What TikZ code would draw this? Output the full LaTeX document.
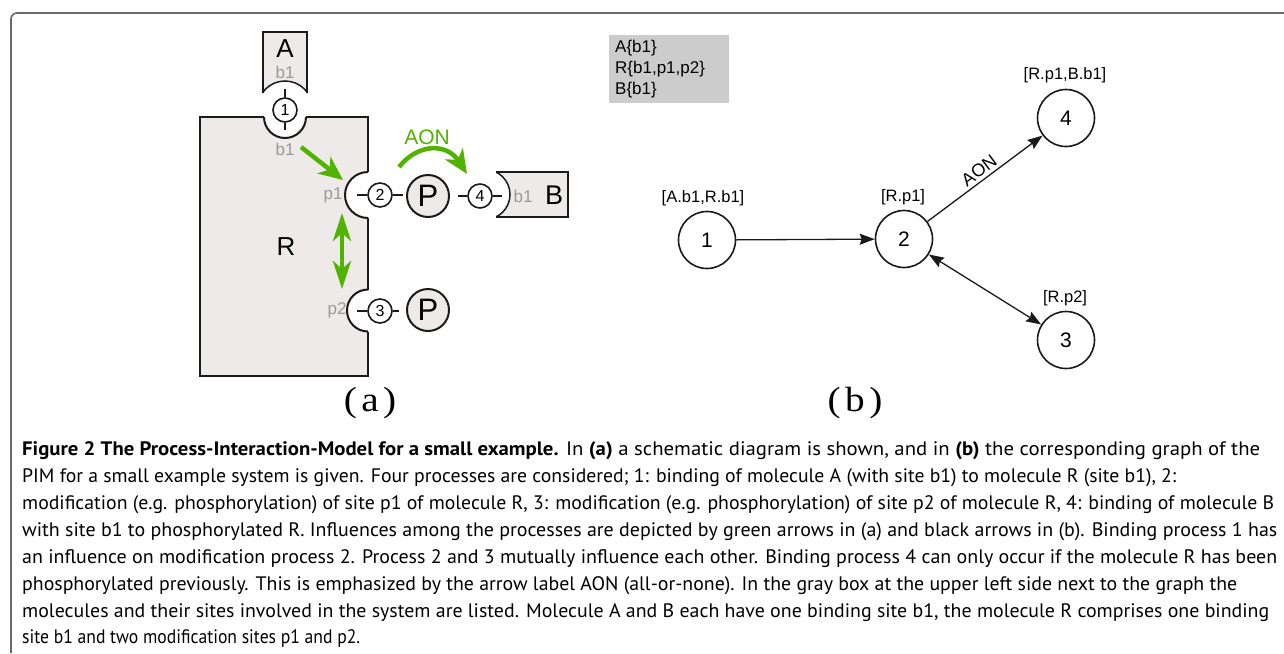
\documentclass[tikz,border=0pt]{standalone}
\usepackage{fontspec}
\setmainfont{Liberation Sans}
\newfontfamily\capfont{PT Sans}
\newfontfamily\timesfont{Liberation Serif}
\usetikzlibrary{arrows.meta}
\definecolor{molfill}{HTML}{EDEAE9}
\definecolor{sitegray}{HTML}{9A9A9A}
\definecolor{aongreen}{HTML}{52B200}
\definecolor{boxgray}{HTML}{CCCCCC}
\definecolor{framegray}{HTML}{6A6A6A}
\definecolor{inkline}{HTML}{1A1A1A}
\newcommand{\capline}[2]{\resizebox{#1pt}{\height}{#2}}
\begin{document}
\begin{tikzpicture}[x=1pt,y=-1pt,
  outline/.style={line width=2, draw=inkline},
  thinoutline/.style={line width=1.5, draw=inkline},
  site/.style={circle, draw=inkline, line width=1.6, fill=white, minimum size=24, inner sep=0, font=\fontsize{16}{16}\selectfont},
  pnode/.style={circle, draw=inkline, line width=2, fill=molfill, minimum size=42, inner sep=0, font=\fontsize{31}{31}\selectfont},
  gnode/.style={circle, draw=inkline, line width=1.6, minimum size=57, inner sep=0, font=\fontsize{21}{21}\selectfont},
  glabel/.style={inner sep=0, font=\fontsize{16.5}{17}\selectfont},
  sitelab/.style={inner sep=0, text=sitegray, font=\fontsize{17}{17}\selectfont},
  biglab/.style={inner sep=0, font=\fontsize{26}{26}\selectfont},
  ticks/.style={line width=2, draw=inkline},
  greenarrow/.style={draw=aongreen, line width=4.5, -{Stealth[length=24,width=21,inset=7]}},
  greendouble/.style={draw=aongreen, line width=4.5, {Stealth[length=28,width=18,inset=8]}-{Stealth[length=28,width=18,inset=8]}},
  graphedge/.style={line width=1.3, draw=inkline},
  tip/.tip={Stealth[length=15,width=11,inset=2]},
  caplab/.style={anchor=base west, inner sep=0, font=\capfont\fontsize{19.5}{27}\selectfont},
  sublab/.style={inner sep=0, font=\timesfont\fontsize{35}{35}\selectfont}
]
\useasboundingbox (0,0) rectangle (1284,653);

% frame
\draw[framegray, line width=1.6, rounded corners=6] (11,653) -- (11,13) -- (1284,13);

% ---------- (a) molecule A
\begin{scope}
  \clip (263,32) rectangle (307,117);
  \fill[molfill] (263,32) rectangle (307,117);
  \fill[white] (285,108.5) circle (27.5);
  \draw[thinoutline] (285,108.5) circle (27.5);
\end{scope}
\draw[thinoutline] (263,92.5) -- (263,32) -- (307,32) -- (307,92.5);

% molecule R
\begin{scope}
  \clip (200,117) rectangle (368,376);
  \fill[molfill] (200,117) rectangle (368,376);
  \fill[white] (285,117) circle (21) (368,195) circle (23) (368,310.5) circle (21);
  \draw[outline] (285,117) circle (21) (368,195) circle (23) (368,310.5) circle (21);
\end{scope}
\draw[outline] (264,117) -- (200,117) -- (200,376) -- (368,376) -- (368,331.5);
\draw[outline] (368,289.5) -- (368,218);
\draw[outline] (368,172) -- (368,117) -- (306,117);

% molecule B
\begin{scope}
  \clip (496,172) rectangle (568,217);
  \fill[molfill] (496,172) rectangle (568,217);
  \fill[white] (485,194.5) circle (25);
  \draw[thinoutline] (485,194.5) circle (25);
\end{scope}
\draw[thinoutline] (496,172) -- (568,172) -- (568,217) -- (496,217);

% sites / processes
\node[site] (s1) at (285,110) {1};
\draw[ticks] (s1.north) -- ++(0,-8);
\draw[ticks] (s1.south) -- ++(0,7);
\node[site] (s2) at (380,195) {2};
\node[pnode] (P1) at (428,196) {P};
\node[site] (s4) at (480,196) {4};
\draw[ticks] (s2.west) -- ++(-10,0);
\draw[ticks] (s2.east) -- ++(10,0);
\draw[ticks] (s4.west) -- ++(-9,0);
\draw[ticks] (s4.east) -- ++(9,0);
\node[site] (s3) at (380,311) {3};
\node[pnode] (P2) at (428,310) {P};
\draw[ticks] (s3.west) -- ++(-10,0);
\draw[ticks] (s3.east) -- ++(6,0);

% labels
\node[biglab] (labA) at (285,49) {A};
\node[sitelab] (labAb) at (285,72) {b1};
\node[sitelab] (labRb) at (285,149) {b1};
\node[sitelab] (labp1) at (333,195) {p1};
\node[sitelab] (labp2) at (337,310) {p2};
\node[sitelab] (labBb) at (523,196) {b1};
\node[biglab] (labR) at (286,247) {R};
\node[biglab, font=\fontsize{27}{27}\selectfont] (labB) at (554,195) {B};

% green influence arrows
\coordinate (g1s) at (301,147);
\coordinate (g1e) at (343,180);
\draw[greenarrow] (g1s) -- (g1e);
\coordinate (g2a) at (342,213);
\coordinate (g2b) at (342,289);
\draw[greendouble] (g2a) -- (g2b);
\coordinate (g3s) at (399,167);
\coordinate (g3e) at (467,174);
\draw[greenarrow] (g3s) .. controls (418,143) and (447,143) .. (g3e);
\node[inner sep=0, text=aongreen, font=\fontsize{21}{21}\selectfont] (aonA) at (427,137) {AON};

\node[sublab] (suba) at (370,403) {\scalebox{1.12}[1]{(\kern4pt a\kern4pt)}};

% ---------- (b)
\fill[boxgray] (609,35) rectangle (729,103);
\node[anchor=west, align=left, inner sep=0, font=\fontsize{17}{21}\selectfont] (mols) at (615,69) {A\{b1\}\\R\{b1,p1,p2\}\\B\{b1\}};

\node[gnode] (n1) at (707,240) {1};
\node[gnode] (n2) at (904,239) {2};
\node[gnode] (n4) at (1066,118) {4};
\node[gnode] (n3) at (1066,340) {3};
\node[glabel] (l1) at (703,198) {[A.b1,R.b1]};
\node[glabel] (l2) at (903,197) {[R.p1]};
\node[glabel] (l4) at (1065,75) {[R.p1,B.b1]};
\node[glabel] (l3) at (1065,298) {[R.p2]};

\draw[graphedge, -tip] (n1) -- (n2);
\draw[graphedge, -tip] (n2) -- node[midway, above=3pt, sloped, inner sep=0, font=\fontsize{18}{18}\selectfont] (aonB) {AON} (n4);
\draw[graphedge, tip-tip] (n2) -- (n3);

\node[sublab] (subb) at (855,403) {\scalebox{1.12}[1]{(\kern4pt b\kern4pt)}};

% ---------- caption
\node[caplab] (c1) at (22,455) {\capline{1238}{\textbf{Figure 2 The Process-Interaction-Model for a small example.} In \textbf{(a)} a schematic diagram is shown, and in \textbf{(b)} the corresponding graph of the}};
\node[caplab] (c2) at (22,482) {\capline{1154}{PIM for a small example system is given. Four processes are considered; 1: binding of molecule A (with site b1) to molecule R (site b1), 2:}};
\node[caplab] (c3) at (22,509) {\capline{1252}{modification (e.g. phosphorylation) of site p1 of molecule R, 3: modification (e.g. phosphorylation) of site p2 of molecule R, 4: binding of molecule B}};
\node[caplab] (c4) at (22,536) {\capline{1255}{with site b1 to phosphorylated R. Influences among the processes are depicted by green arrows in (a) and black arrows in (b). Binding process 1 has}};
\node[caplab] (c5) at (22,563) {\capline{1255}{an influence on modification process 2. Process 2 and 3 mutually influence each other. Binding process 4 can only occur if the molecule R has been}};
\node[caplab] (c6) at (22,590) {\capline{1215}{phosphorylated previously. This is emphasized by the arrow label AON (all-or-none). In the gray box at the upper left side next to the graph the}};
\node[caplab] (c7) at (22,617) {\capline{1247}{molecules and their sites involved in the system are listed. Molecule A and B each have one binding site b1, the molecule R comprises one binding}};
\node[caplab] (c8) at (22,643) {\capline{338}{site b1 and two modification sites p1 and p2.}};
\end{tikzpicture}
\end{document}
